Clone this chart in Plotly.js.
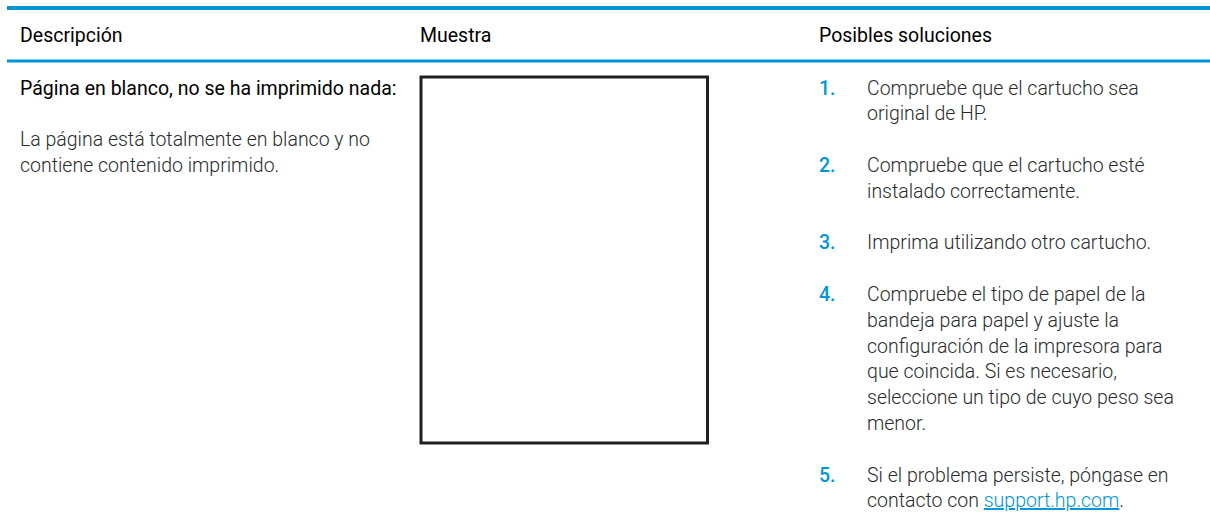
<!DOCTYPE html>
<html>
<head>
<meta charset="utf-8">
<script src="https://cdn.plot.ly/plotly-3.0.1.min.js"></script>
<style>
html,body{margin:0;padding:0;background:#fff;}
#chart{width:1210px;height:527px;}
</style>
</head>
<body>
<div id="chart"></div>
<script>
// ---- data ----
const headers = ["Descripción", "Muestra", "Posibles soluciones"];
const issueTitle = "Página en blanco, no se ha imprimido nada:";
const issueDescription = [
  "La página está totalmente en blanco y no",
  "contiene contenido imprimido."
];
const solutionNumbers = ["1.", "2.", "3.", "4.", "5."];
const solutionLines = [
  ["Compruebe que el cartucho sea", "original de HP."],
  ["Compruebe que el cartucho esté", "instalado correctamente."],
  ["Imprima utilizando otro cartucho."],
  ["Compruebe el tipo de papel de la", "bandeja para papel y ajuste la",
   "configuración de la impresora para", "que coincida. Si es necesario,",
   "seleccione un tipo de cuyo peso sea", "menor."],
  ["Si el problema persiste, póngase en", "contacto con <u>support.hp.com</u>."]
];
const linkText = "support.hp.com";

// ---- layout constants ----
const BLUE = "#0096D6";
const BODY = "#2b2b2b";
const FONT = "Roboto, 'Open Sans', sans-serif";
const FS = 19.5;
const colX = [20, 420, 819];
const solTextX = 867;
const headerY = 35;
const firstRowY = 88;
const LINE = 25.8;

const annotations = [];
function txt(x, y, text, opts) {
  opts = opts || {};
  annotations.push({
    x: x, y: y, xref: "x", yref: "y", text: text, showarrow: false,
    xanchor: "left", yanchor: "middle", align: "left", xshift: -2,
    font: {family: FONT, size: opts.size || FS, color: opts.color || BODY, weight: opts.weight || 300}
  });
}

headers.forEach((h, i) => txt(colX[i], headerY, h, {color: "#000", weight: 400}));
txt(colX[0], firstRowY, issueTitle, {color: "#000", weight: 400});
issueDescription.forEach((l, i) => txt(colX[0], firstRowY + (2 + i) * LINE, l));

let y = firstRowY;
solutionLines.forEach((lines, k) => {
  txt(colX[2], y, solutionNumbers[k], {color: BLUE, weight: 500});
  lines.forEach((l, j) => {
    const t = l.replace("<u>" + linkText + "</u>",
      "<span style='color:" + BLUE + "'><u>" + linkText + "</u></span>");
    txt(solTextX, y + j * LINE, t);
  });
  y += (lines.length + 1) * LINE;
});

const shapes = [
  {type: "line", xref: "x", yref: "y", x0: 7, x1: 1210, y0: 8, y1: 8, line: {color: BLUE, width: 4}},
  {type: "line", xref: "x", yref: "y", x0: 7, x1: 1210, y0: 61, y1: 61, line: {color: BLUE, width: 3}},
  {type: "rect", xref: "x", yref: "y", x0: 421, x1: 707.5, y0: 77, y1: 443, line: {color: "#231f20", width: 3}, fillcolor: "rgba(0,0,0,0)"}
];

const layout = {
  width: 1210, height: 527,
  margin: {l: 0, r: 0, t: 0, b: 0, pad: 0},
  paper_bgcolor: "#fff", plot_bgcolor: "#fff",
  showlegend: false,
  xaxis: {range: [0, 1210], visible: false, fixedrange: true},
  yaxis: {range: [527, 0], visible: false, fixedrange: true},
  shapes: shapes,
  annotations: annotations
};

Plotly.newPlot("chart", [], layout, {staticPlot: true, displayModeBar: false});
</script>
</body>
</html>
